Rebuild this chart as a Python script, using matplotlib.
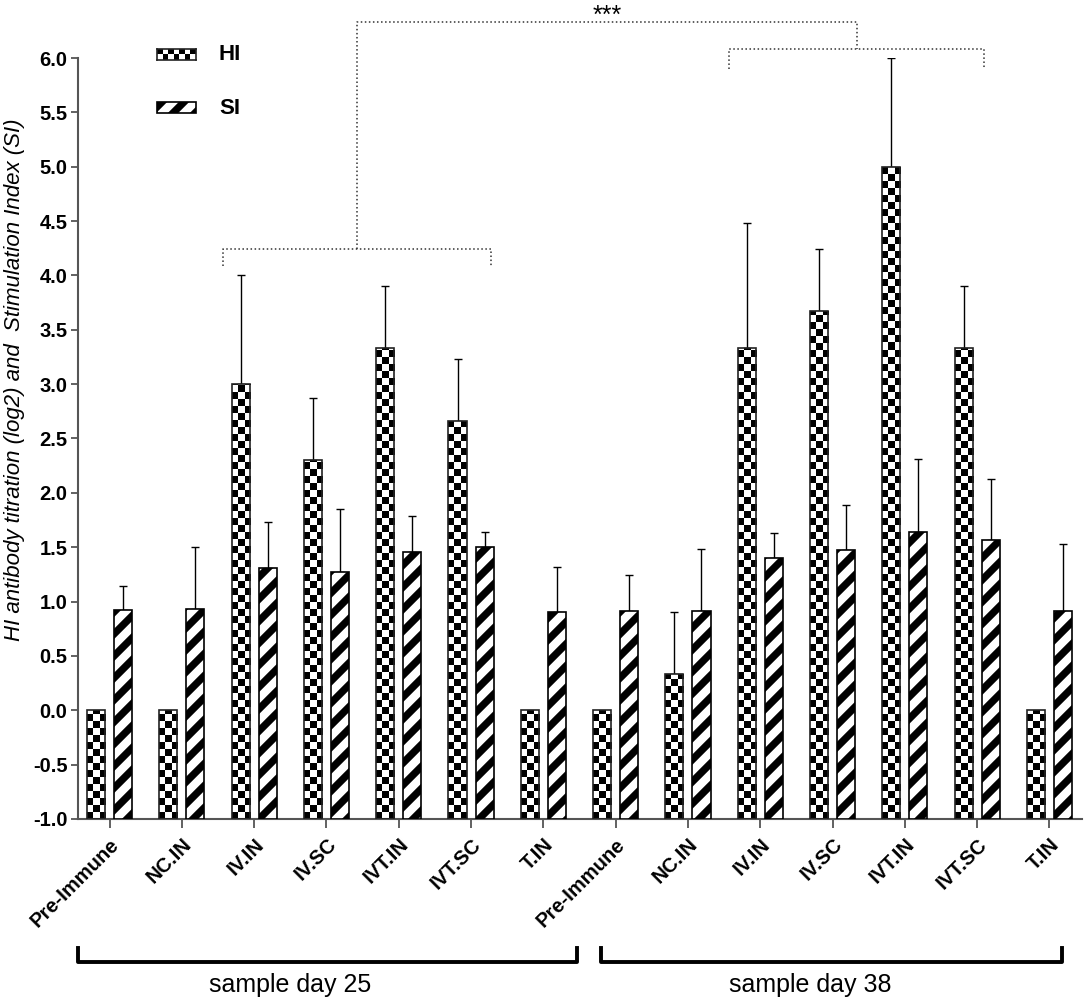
import numpy as np
import matplotlib
matplotlib.use("Agg")
import matplotlib.pyplot as plt
import matplotlib.transforms as mtransforms
from matplotlib.patches import Rectangle

# a dpi of 132 makes the '//' hatch stripes the same pitch as the original
DPI = 132


def fs(v):
    # sizes below are tuned in points at 100 dpi
    return v * 100 / DPI


plt.rcParams['font.family'] = ['Liberation Sans', 'DejaVu Sans']
plt.rcParams['hatch.linewidth'] = 4.0

# groups (day 25 then day 38)
groups = ["Pre-Immune", "NC.IN", "IV.IN", "IV.SC", "IVT.IN", "IVT.SC", "T.IN"] * 2
days = ["sample day 25", "sample day 38"]

# HI titre (log2), mean and upper error
hi_mean = [0, 0, 3.0, 2.3, 3.33, 2.66, 0, 0, 0.33, 3.33, 3.67, 5.0, 3.33, 0]
hi_err = [0, 0, 1.0, 0.57, 0.57, 0.57, 0, 0, 0.57, 1.15, 0.57, 1.0, 0.57, 0]
# stimulation index
si_mean = [0.92, 0.93, 1.31, 1.27, 1.46, 1.50, 0.90, 0.91, 0.91, 1.40, 1.47, 1.64, 1.57, 0.91]
si_err = [0.22, 0.57, 0.42, 0.58, 0.33, 0.14, 0.42, 0.33, 0.57, 0.23, 0.42, 0.67, 0.56, 0.62]

W, H = 1084, 999
fig = plt.figure(figsize=(W / DPI, H / DPI), dpi=DPI)
ax_rect = [78 / W, 1 - 819 / H, 1004 / W, 761 / H]
ax = fig.add_axes(ax_rect)

ymin, ymax = -1.0, 6.0
xlo, xhi = -0.436, 13.45
x = np.arange(len(groups))
w = 0.25
off = 0.187
edge = '#222222'

# checkerboard fill for the HI bars
ypu = ax_rect[3] * H / (ymax - ymin)
cell_h = 7.0 / ypu
for xc, v in zip(x - off, hi_mean):
    h = v - ymin
    nrow = int(np.ceil(h / cell_h))
    board = np.indices((nrow, 3)).sum(axis=0) % 2
    im = ax.imshow(board, cmap='gray', vmin=0, vmax=1, origin='lower',
                   extent=[xc - w / 2, xc + w / 2, ymin, ymin + nrow * cell_h],
                   interpolation='nearest', aspect='auto', zorder=2)
    im.set_clip_path(Rectangle((xc - w / 2, ymin), w, h, transform=ax.transData))
ax.bar(x - off, np.array(hi_mean) - ymin, w, bottom=ymin, fill=False,
       edgecolor=edge, linewidth=fs(1.2), zorder=3)

ax.bar(x + off, np.array(si_mean) - ymin, w, bottom=ymin, color='white',
       edgecolor='black', hatch='//', linewidth=fs(1.2), zorder=3)

# upward error bars only
hi_m = np.array(hi_mean); hi_e = np.array(hi_err)
k = hi_e > 0
eb = dict(fmt='none', ecolor='black', elinewidth=fs(1), capsize=fs(3), capthick=fs(1), zorder=1)
ax.errorbar((x - off)[k], hi_m[k], yerr=[np.zeros(k.sum()), hi_e[k]], **eb)
ax.errorbar(x + off, si_mean, yerr=[np.zeros(len(x)), si_err], **eb)

ax.set_xlim(xlo, xhi)
ax.set_ylim(ymin, ymax)
for s in ['top', 'right']:
    ax.spines[s].set_visible(False)
for s in ['left', 'bottom']:
    ax.spines[s].set_color('#555555')
    ax.spines[s].set_linewidth(fs(1.5))

yt = np.arange(-1, 6.01, 0.5)
ax.set_yticks(yt)
ax.set_yticklabels(['%.1f' % v for v in yt], fontsize=fs(14.5), fontweight='bold')
ax.set_xticks(x)
ax.set_xticklabels(groups, rotation=45, ha='right', rotation_mode='anchor',
                   fontsize=fs(14.5), fontweight='bold')
ax.tick_params(axis='x', length=fs(6.5), width=fs(1.3), color='#555555', pad=fs(5))
ax.tick_params(axis='y', length=fs(5), width=fs(1.3), color='#555555', pad=fs(2.5))

ax.set_ylabel("HI antibody titration (log2) and  Stimulation Index (SI)",
              fontsize=fs(16), style='italic')
ax.yaxis.set_label_coords(-0.053, (819 - 380) / 761)

# significance brackets
dot = dict(color='#333333', linestyle=':', linewidth=fs(1.1), clip_on=False)
l0, l1, ly, lt = 1.57, 5.28, 4.24, 4.09
r0, r1, ry, rt = 8.57, 12.1, 6.08, 5.9
ax.plot([l0, l0, l1, l1], [lt, ly, ly, lt], **dot)
ax.plot([r0, r0, r1, r1], [rt, ry, ry, rt], **dot)
m1, m2 = (l0 + l1) / 2, (r0 + r1) / 2
ax.plot([m1, m1, m2, m2], [ly, 6.33, 6.33, ry], **dot)
ax.text((m1 + m2) / 2, 6.5, "***", ha='center', va='top', fontsize=fs(18),
        clip_on=False)

# day brackets under the axis
tr = mtransforms.blended_transform_factory(ax.transData, ax.transAxes)
spans = [(-0.43, 6.466), (6.798, 13.18)]
day_x = [2.5, 9.69]
for (a, b), tx, lab in zip(spans, day_x, days):
    ax.plot([a, a, b, b], [-0.1695, -0.188, -0.188, -0.1695], color='black',
            linewidth=fs(2.8), transform=tr, clip_on=False)
    ax.text(tx, -0.218, lab, transform=tr, ha='center', va='center',
            fontsize=fs(18))

# legend
lax = fig.add_axes([157 / W, 1 - 60 / H, 39 / W, 11 / H])
lax.imshow(np.indices((2, 7)).sum(axis=0) % 2, cmap='gray', vmin=0, vmax=1,
           interpolation='nearest', aspect='auto')
lax.set_xticks([]); lax.set_yticks([])
for s in lax.spines.values():
    s.set_color(edge)
    s.set_linewidth(fs(1.2))
fig.add_artist(Rectangle((157 / W, 1 - 113 / H), 39 / W, 11 / H, transform=fig.transFigure,
                         facecolor='white', edgecolor='black', hatch='//', linewidth=fs(1.2)))
fig.text(219 / W, 1 - 55 / H, "HI", fontsize=fs(16), fontweight='bold', va='center')
fig.text(219 / W, 1 - 108 / H, "SI", fontsize=fs(16), fontweight='bold', va='center')

fig.savefig("out.png", dpi=DPI)
